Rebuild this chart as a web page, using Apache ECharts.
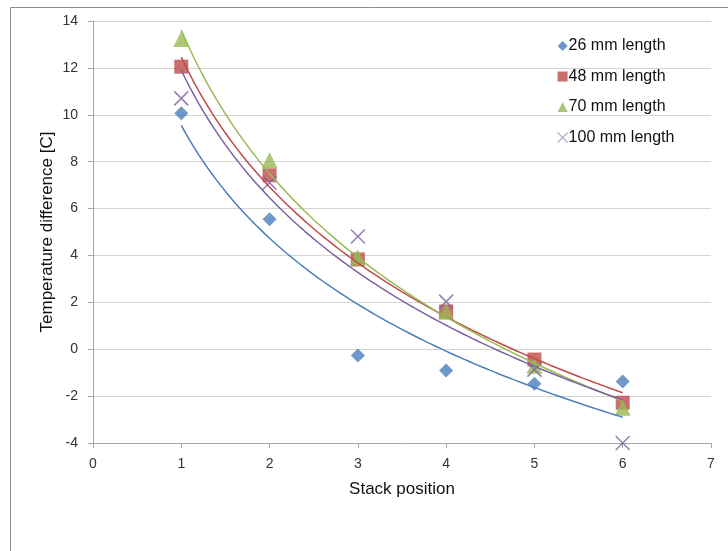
<!DOCTYPE html>
<html>
<head>
<meta charset="utf-8">
<script src="https://cdn.jsdelivr.net/npm/echarts@6/dist/echarts.min.js"></script>
<style>
  html, body { margin: 0; padding: 0; background: #fff; }
  #chart { width: 728px; height: 551px; }
</style>
</head>
<body>
<div id="chart"></div>
<script>
// Stack positions and measured temperature differences per length
const positions = [1, 2, 3, 4, 5, 6];
const seriesNames = ['26 mm length', '48 mm length', '70 mm length', '100 mm length'];
const len26 = [10.07, 5.54, -0.27, -0.91, -1.47, -1.38];
const len48 = [12.05, 7.42, 3.83, 1.61, -0.44, -2.28];
const len70 = [13.23, 8.06, 3.91, 1.60, -0.70, -2.50];
const len100 = [10.70, 7.10, 4.81, 2.03, -0.87, -4.00];
const xTicks = [0, 1, 2, 3, 4, 5, 6, 7];
const yTicks = [-4, -2, 0, 2, 4, 6, 8, 10, 12, 14];

const colors = ['#4a7ebb', '#be4b48', '#98b954', '#7d60a0'];
const symbols = [
  'diamond',
  'rect',
  'triangle',
  'path://M0,0L10,10M10,0L0,10'
];
const symbolSizes = [14, 14, 16, 14];

// Logarithmic least-squares fit y = a*ln(x) + b
function logFit(xs, ys) {
  const lx = xs.map(Math.log);
  const n = xs.length;
  const mx = lx.reduce((s, v) => s + v, 0) / n;
  const my = ys.reduce((s, v) => s + v, 0) / n;
  let sxy = 0, sxx = 0;
  for (let i = 0; i < n; i++) {
    sxy += (lx[i] - mx) * (ys[i] - my);
    sxx += (lx[i] - mx) * (lx[i] - mx);
  }
  const a = sxy / sxx;
  const b = my - a * mx;
  const pts = [];
  for (let x = xs[0]; x <= xs[n - 1] + 1e-9; x += 0.05) {
    pts.push([x, a * Math.log(x) + b]);
  }
  return pts;
}

const allData = [len26, len48, len70, len100];
const series = [];
allData.forEach((vals, i) => {
  series.push({
    name: seriesNames[i] + ' trend',
    type: 'line',
    data: logFit(positions, vals),
    showSymbol: false,
    symbol: 'none',
    lineStyle: { color: colors[i], width: 1.5 },
    silent: true,
    z: 3
  });
});
allData.forEach((vals, i) => {
  const isCross = i === 3;
  series.push({
    name: seriesNames[i],
    type: 'scatter',
    data: positions.map((x, k) => [x, vals[k]]),
    symbol: symbols[i],
    symbolSize: symbolSizes[i],
    itemStyle: isCross
      ? { color: 'rgba(0,0,0,0)', borderColor: colors[i], borderWidth: 1.6 }
      : { color: colors[i] },
    z: 2
  });
});

const chart = echarts.init(document.getElementById('chart'), null, { renderer: 'canvas' });
chart.setOption({
  animation: false,
  backgroundColor: '#fff',
  graphic: [{
    type: 'rect',
    shape: { x: 10.5, y: 7.5, width: 740, height: 560 },
    style: { fill: 'none', stroke: '#8c8c8c', lineWidth: 1 },
    z: -1
  }],
  grid: { left: 93, right: 17, top: 21, bottom: 108 },
  legend: {
    data: seriesNames.map((n, i) => ({
      name: n,
      icon: i === 3 ? 'path://M0,0L10,10M10,0L0,10' : symbols[i],
      itemStyle: i === 3
        ? { color: 'rgba(0,0,0,0)', borderColor: '#a898c4', borderWidth: 1.2 }
        : { color: colors[i] }
    })),
    orient: 'vertical',
    left: 552,
    top: 33,
    itemWidth: 10,
    itemHeight: 10,
    itemGap: 14.5,
    textStyle: { fontFamily: 'Liberation Sans', fontSize: 16, color: '#111', padding: [0, 0, 0, -4] }
  },
  xAxis: {
    type: 'value',
    min: 0,
    max: 7,
    interval: 1,
    name: 'Stack position',
    nameLocation: 'middle',
    nameGap: 38,
    nameMoveOverlap: false,
    nameTextStyle: { fontFamily: 'Liberation Sans', fontSize: 17, color: '#111' },
    axisLine: { onZero: false, lineStyle: { color: '#a6a6a6', width: 1 } },
    axisTick: { show: true, length: 5, lineStyle: { color: '#a6a6a6' } },
    axisLabel: {
      fontFamily: 'Liberation Sans', fontSize: 14, color: '#333', margin: 14,
      formatter: v => xTicks.includes(v) ? String(v) : ''
    },
    splitLine: { show: false }
  },
  yAxis: {
    type: 'value',
    min: -4,
    max: 14,
    interval: 2,
    name: 'Temperature difference [C]',
    nameLocation: 'middle',
    nameGap: 37,
    nameMoveOverlap: false,
    nameTextStyle: { fontFamily: 'Liberation Sans', fontSize: 17, color: '#111' },
    axisLine: { show: true, lineStyle: { color: '#a6a6a6', width: 1 } },
    axisTick: { show: true, length: 5, lineStyle: { color: '#a6a6a6' } },
    axisLabel: {
      fontFamily: 'Liberation Sans', fontSize: 14, color: '#333', margin: 15,
      formatter: v => yTicks.includes(v) ? String(v) : ''
    },
    splitLine: { show: true, lineStyle: { color: '#d4d4d4', width: 1 } }
  },
  series: series
});
</script>
</body>
</html>
